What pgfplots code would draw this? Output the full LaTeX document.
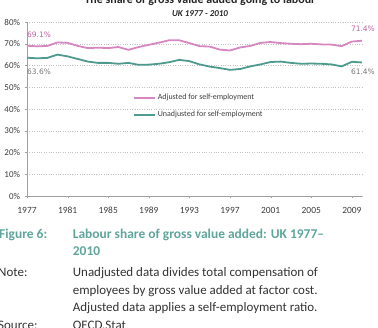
\documentclass[border=0pt]{standalone}
\usepackage{pgfplots}
\pgfplotsset{compat=1.18}
\usepackage{fontspec}
\setmainfont{Carlito}
\newfontfamily\dejavu{DejaVu Sans}
\definecolor{pinkline}{RGB}{214,135,192}
\definecolor{pinktext}{RGB}{190,100,160}
\definecolor{tealline}{RGB}{78,154,143}
\definecolor{capteal}{RGB}{95,165,155}
\definecolor{gridgray}{RGB}{195,195,195}
\definecolor{axgray}{RGB}{160,160,160}
\definecolor{ticktext}{RGB}{60,60,60}
\definecolor{lbltext}{RGB}{120,120,120}

\pgfplotstableread{
year adj unadj
1977 69.1 63.6
1978 68.8 63.3
1979 69.0 63.5
1980 70.6 65.0
1981 70.4 64.2
1982 69.0 63.0
1983 68.0 61.8
1984 68.2 61.2
1985 68.0 61.2
1986 68.5 60.8
1987 67.2 61.2
1988 68.5 60.3
1989 69.5 60.4
1990 70.5 60.8
1991 71.6 61.5
1992 71.6 62.6
1993 70.3 62.0
1994 68.9 60.5
1995 68.7 59.5
1996 67.3 58.8
1997 66.9 58.0
1998 68.3 58.4
1999 69.0 59.6
2000 70.4 60.5
2001 70.8 61.6
2002 70.3 61.8
2003 70.0 61.2
2004 69.8 60.8
2005 70.0 60.9
2006 69.7 60.8
2007 69.6 60.5
2008 68.9 59.6
2009 71.0 61.7
2010 71.4 61.4
}\datatable

\begin{document}
\begin{tikzpicture}
\begin{axis}[
  at={(27bp,132bp)}, anchor=south west,
  scale only axis, width=335bp, height=174bp,
  xmin=1977, xmax=2010, ymin=0, ymax=80,
  clip=false,
  xtick={1977,1981,...,2009},
  ytick={0,10,...,80},
  axis x line*=bottom, axis y line*=left,
  axis line style={axgray, -},
  tick align=outside, major tick length=2.5bp,
  tick style={axgray},
  ymajorgrids, grid style={gridgray, dotted},
  /pgf/number format/assume math mode=true,
  /pgf/number format/1000 sep={},
  yticklabel={\pgfmathprintnumber{\tick}\%},
  ticklabel style={font=\fontsize{9}{10}\selectfont, text=ticktext},
  xticklabel style={yshift=-5bp, font=\fontsize{9.5}{10}\selectfont},
  yticklabel style={xshift=-1bp},
  legend style={at={(0.307,0.609)}, anchor=north west, draw=none, fill=none,
    font=\fontsize{8}{9}\selectfont, row sep=6bp, text=ticktext},
  legend cell align=left,
  legend image code/.code={\draw[#1, line width=1.8bp] (0bp,0bp) -- (21bp,0bp);},
]
\addplot[pinkline, line width=1.8bp, mark=none] table[x=year, y=adj] {\datatable};
\addlegendentry{Adjusted for self-employment}
\addplot[tealline, line width=1.8bp, mark=none] table[x=year, y=unadj] {\datatable};
\addlegendentry{Unadjusted for self-employment}
\node[anchor=west, inner sep=0pt, font=\dejavu\fontsize{7.5}{9}\selectfont, text=pinktext] at (axis cs:1977,74.1) {69.1\%};
\node[anchor=west, inner sep=0pt, font=\dejavu\fontsize{7.5}{9}\selectfont, text=lbltext] at (axis cs:1977,57.2) {63.6\%};
\node[anchor=east, inner sep=0pt, xshift=13bp, font=\dejavu\fontsize{7.5}{9}\selectfont, text=pinktext] at (axis cs:2010,76.9) {71.4\%};
\node[anchor=east, inner sep=0pt, xshift=13bp, font=\dejavu\fontsize{7.5}{9}\selectfont, text=lbltext] at (axis cs:2010,57.1) {61.4\%};
\end{axis}
\node[anchor=base, inner sep=0pt, font=\bfseries\fontsize{12}{14}\selectfont, text=black!85] at (200bp,324.5bp) {The share of gross value added going to labour};
\node[anchor=base, inner sep=0pt, font=\bfseries\itshape\fontsize{9}{11}\selectfont, text=black!85] at (200bp,311bp) {UK 1977 - 2010};
\begin{scope}[every node/.style={anchor=base west, inner sep=0pt}]
\node[font=\bfseries\fontsize{13.5}{16}\selectfont, text=capteal] at (-1bp,89.7bp) {Figure 6:};
\node[font=\bfseries\fontsize{13.5}{16}\selectfont, text=capteal] at (72.7bp,89.7bp) {Labour share of gross value added: UK 1977–};
\node[font=\bfseries\fontsize{13.5}{16}\selectfont, text=capteal] at (72.7bp,72bp) {2010};
\node[font=\fontsize{13}{16}\selectfont, text=black!80] at (-2bp,51.3bp) {Note:};
\node[font=\fontsize{13}{16}\selectfont, text=black!80] at (72.7bp,51.3bp) {Unadjusted data divides total compensation of};
\node[font=\fontsize{13}{16}\selectfont, text=black!80] at (72.7bp,34bp) {employees by gross value added at factor cost.};
\node[font=\fontsize{13}{16}\selectfont, text=black!80] at (72.7bp,16.7bp) {Adjusted data applies a self-employment ratio.};
\node[font=\fontsize{13}{16}\selectfont, text=black!80] at (-2bp,-1bp) {Source:};
\node[font=\fontsize{13}{16}\selectfont, text=black!80] at (72.7bp,-1bp) {OECD.Stat};
\end{scope}
\pgfresetboundingbox
\path[use as bounding box] (0,0) rectangle (378bp,328bp);
\end{tikzpicture}
\end{document}
